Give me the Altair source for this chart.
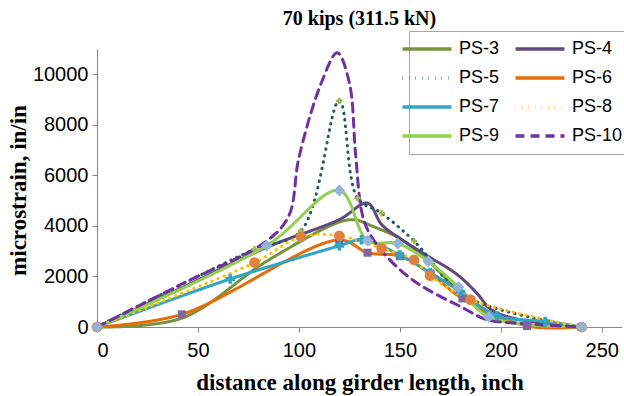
import altair as alt
import pandas as pd

SERIES = ["PS-3", "PS-4", "PS-5", "PS-6", "PS-7", "PS-8", "PS-9", "PS-10"]
LEGEND_ORDER = ["PS-3", "PS-5", "PS-7", "PS-9", "PS-4", "PS-6", "PS-8", "PS-10"]

PS3_X = [0, 42, 84, 120, 128, 136, 150, 165, 180, 195, 213, 240]
PS3_Y = [0, 350, 2600, 4150, 4240, 4000, 3500, 2550, 1350, 450, 100, 0]

PS4_X = [0, 42, 84, 120, 134, 141, 152, 165, 178, 188, 195, 206, 240]
PS4_Y = [0, 1550, 3150, 4250, 4900, 4050, 3400, 2750, 2100, 1350, 700, 350, 0]

PS5_X = [0, 78, 101, 120, 129, 141, 157, 183, 240]
PS5_Y = [0, 3080, 3800, 8950, 5100, 4500, 3400, 1200, 0]

PS6_X = [0, 42, 120, 134, 150, 165, 181, 213, 240]
PS6_Y = [0, 500, 3440, 2940, 2800, 2120, 1130, 40, 0]

PS7_X = [0, 66, 120, 131, 150, 165, 180, 198, 222, 240]
PS7_Y = [0, 1900, 3210, 3450, 2850, 2150, 1400, 450, 220, 0]

PS8_X = [0, 78, 101, 120, 141, 157, 165, 185, 240]
PS8_Y = [0, 2550, 3570, 3610, 3110, 2660, 2030, 1080, 0]

PS9_X = [0, 84, 120, 134, 149, 164, 179, 194, 240]
PS9_Y = [0, 3220, 5400, 3420, 3300, 2600, 1580, 400, 0]

PS10_X = [0, 42, 84, 95, 100, 111, 119, 125, 128, 131, 134, 142, 154, 164, 180, 193, 206, 240]
PS10_Y = [0, 1700, 3400, 4400, 6700, 9640, 10850, 9650, 6900, 4600, 3850, 2920, 2000, 1470, 810, 290, 160, 0]

X_TICKS = [0, 50, 100, 150, 200, 250]
Y_TICKS = [0, 2000, 4000, 6000, 8000, 10000]

LINE_COLORS = ["#77933C", "#604A7B", "#215968", "#E46C0A", "#31A5C4", "#FFC000", "#92D050", "#7030A0"]
LINE_DASHES = [[1, 0], [1, 0], [0.5, 6], [1, 0], [1, 0], [0.5, 6], [1, 0], [9, 6]]

MARKER_SERIES = ["PS-5", "PS-6", "PS-7", "PS-8", "PS-9"]
MARKER_SHAPES = ["cross", "square", "cross", "circle", "diamond"]
MARKER_FILLS = ["#9BBB59", "#8064A2", "#31A5C4", "#E0823D", "#95B3D7"]
MARKER_SIZES = [40, 140, 30, 70, 100]

xs = [PS3_X, PS4_X, PS5_X, PS6_X, PS7_X, PS8_X, PS9_X, PS10_X]
ys = [PS3_Y, PS4_Y, PS5_Y, PS6_Y, PS7_Y, PS8_Y, PS9_Y, PS10_Y]
rows = []
for s, xa, ya in zip(SERIES, xs, ys):
    for i, (xv, yv) in enumerate(zip(xa, ya)):
        rows.append({"series": s, "x": xv, "y": yv, "idx": i})
df = pd.DataFrame(rows)

legend = alt.Legend(
    title=None, orient="none", legendX=312, legendY=-18, columns=2, values=LEGEND_ORDER,
    symbolType="M-4,0H4", symbolSize=150, symbolStrokeWidth=3.5,
    labelFontSize=18, labelFont="Liberation Sans", labelColor="black",
    rowPadding=11, columnPadding=8, padding=9, labelOffset=23,
    strokeColor="#A6A6A6", fillColor="white",
)

x_enc = alt.X("x:Q", scale=alt.Scale(domain=[0, 260], nice=False),
              axis=alt.Axis(values=X_TICKS, title="distance along girder length, inch",
                            titleY=62, titleBaseline="alphabetic", labelPadding=8))
y_enc = alt.Y("y:Q", scale=alt.Scale(domain=[0, 11000], nice=False),
              axis=alt.Axis(values=Y_TICKS, format="d", title="microstrain, in/in",
                            titleX=-72, titleY=141, titleBaseline="alphabetic", labelPadding=4))

lines = alt.Chart(df).mark_line(interpolate="catmull-rom", strokeWidth=3, strokeCap="round").encode(
    x=x_enc, y=y_enc,
    stroke=alt.Stroke("series:N", scale=alt.Scale(domain=SERIES, range=LINE_COLORS), legend=legend),
    strokeDash=alt.StrokeDash("series:N", scale=alt.Scale(domain=SERIES, range=LINE_DASHES), legend=legend),
    order="idx:Q",
)

points = alt.Chart(df).transform_filter(
    alt.FieldOneOfPredicate(field="series", oneOf=MARKER_SERIES)
).mark_point(filled=True, opacity=1, strokeWidth=0).encode(
    x=x_enc, y=y_enc,
    fill=alt.Fill("series:N", scale=alt.Scale(domain=MARKER_SERIES, range=MARKER_FILLS), legend=None),
    shape=alt.Shape("series:N", scale=alt.Scale(domain=MARKER_SERIES, range=MARKER_SHAPES), legend=None),
    size=alt.Size("series:N", scale=alt.Scale(domain=MARKER_SERIES, range=MARKER_SIZES), legend=None),
)

chart = alt.layer(lines, points).properties(
    width=525, height=278,
    background="white",
    title=alt.TitleParams("70 kips (311.5 kN)", font="Liberation Serif", fontSize=20,
                          fontWeight="bold", color="black", anchor="middle",
                          baseline="alphabetic", offset=22, dy=36),
    autosize=alt.AutoSizeParams(type="none"),
    padding={"left": 97, "top": 49, "right": 2, "bottom": 69},
).configure_view(stroke=None).configure_axis(
    grid=False, domainColor="#868686", tickColor="#868686", tickSize=5,
    labelFont="Liberation Sans", labelFontSize=20, labelColor="black",
    titleFont="Liberation Serif", titleFontSize=23, titleFontWeight="bold", titleColor="black",
)

chart.save("out.html", embed_options={"renderer": "svg", "actions": False})
